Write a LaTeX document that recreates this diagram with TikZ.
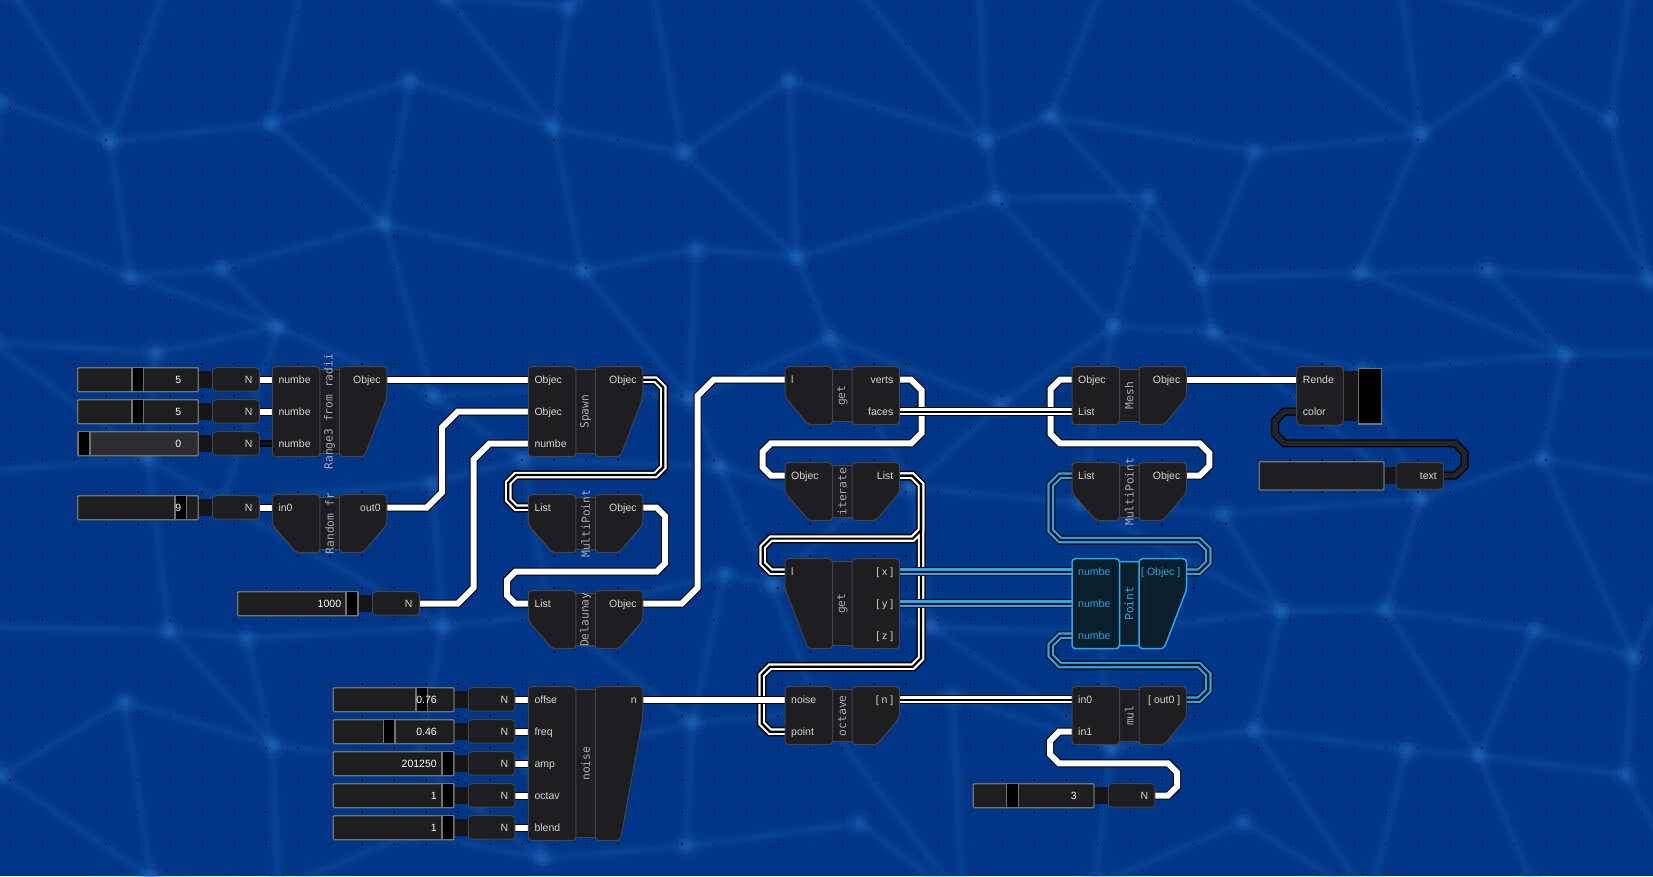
\documentclass[tikz,border=0pt]{standalone}
\usepackage{fontspec}
\setmainfont{Liberation Sans}
\newfontfamily\monof{DejaVu Sans Mono}
\pgfdeclarelayer{bgl}
\pgfdeclarelayer{wires}
\pgfsetlayers{bgl,wires,main}
\definecolor{bg}{HTML}{003587}
\definecolor{netl}{HTML}{2A6FC4}
\definecolor{nodef}{HTML}{1E1E20}
\definecolor{noded}{HTML}{44454B}
\definecolor{lbl}{HTML}{D6D6D6}
\definecolor{midl}{HTML}{A9ABB3}
\definecolor{cyn}{HTML}{2EA6EA}
\definecolor{cynd}{HTML}{06121E}
\definecolor{ptf}{HTML}{0B1E2B}
\definecolor{sldb}{HTML}{737373}
\definecolor{sl0}{HTML}{2C2D31}
\definecolor{dotc}{HTML}{0B1830}
\definecolor{neckc}{HTML}{161618}
\definecolor{wk}{HTML}{242426}
\tikzset{
  nbody/.style={fill=nodef, draw=noded, line width=1},
  pbody/.style={fill=ptf, draw=cyn, line width=1.5},
  plab/.style={font=\fontsize{10.5}{12}\selectfont, inner sep=0, text height=7, text depth=0},
  vlab/.style={font=\fontsize{10.5}{12}\selectfont, inner sep=0, text height=7, text depth=0, text=white},
  midlab/.style={font=\monof\fontsize{11.3}{12}\selectfont, inner sep=0, text=midl},
  pmid/.style={font=\monof\fontsize{11.3}{12}\selectfont, inner sep=0, text=cyn},
  sbody/.style={draw=sldb, line width=1.3, rounded corners=1},
  sknob/.style={fill=black, draw=sldb, line width=1.2},
  nbox/.style={fill=nodef, draw=noded, line width=1, rounded corners=3},
  net/.style={draw=netl, line cap=round},
}
% node part shapes
\newcommand\pLs{(\gx,\gy) -- (\gx+47.5,\gy) -- (\gx+47.5,\gb) -- (\gx,\gb) -- cycle}
\newcommand\pLc{(\gx,\gy) -- (\gx+47.5,\gy) -- (\gx+47.5,\gb) -- (\gx+24,\gb) -- (\gx,\gb-28) -- cycle}
\newcommand\pLt{(\gx,\gy) -- (\gx+47.5,\gy) -- (\gx+47.5,\gb) -- (\gx+23,\gb) -- (\gx,\gy+30) -- cycle}
\newcommand\pRs{(\gx+67,\gy) -- (\gx+114.5,\gy) -- (\gx+114.5,\gb) -- (\gx+67,\gb) -- cycle}
\newcommand\pRc{(\gx+67,\gy) -- (\gx+114.5,\gy) -- (\gx+114.5,\gb-28) -- (\gx+90.5,\gb) -- (\gx+67,\gb) -- cycle}
\newcommand\pRt{(\gx+67,\gy) -- (\gx+114.5,\gy) -- (\gx+114.5,\gy+31) -- (\gx+92,\gb) -- (\gx+67,\gb) -- cycle}
% graph node: name, X, Y, rows, left shape, right shape, label, body style, label style
\newcommand\GN[9]{%
  \pgfmathsetmacro\gx{#2}%
  \pgfmathsetmacro\gy{#3}%
  \pgfmathsetmacro\gb{#3+32*#4-6}%
  \pgfmathsetmacro\gc{#3+16*#4-3}%
  \pgfmathsetmacro\gh{32*#4-6}%
  \node[inner sep=0, outer sep=0, minimum width=114.5pt, minimum height=\gh pt, anchor=north west] (#1) at (\gx,\gy) {};
  \draw[#8, rounded corners=2.5] (\gx+46,\gy+3) rectangle (\gx+68.5,\gb-3);
  \draw[#8, rounded corners=3.5] #5;
  \draw[#8, rounded corners=3.5] #6;
  \node[#9, rotate=90] (#1-lab) at (\gx+57.25,\gc) {#7};
}
\newcommand\InP[4][lbl]{\coordinate (#4) at (\gx,\gy+32*#2-19);
  \node[plab, text=#1, anchor=west] (#4-t) at (\gx+6,\gy+32*#2-19) {#3};}
\newcommand\OutP[4][lbl]{\coordinate (#4) at (\gx+114.5,\gy+32*#2-19);
  \node[plab, text=#1, anchor=east] (#4-t) at (\gx+108.5,\gy+32*#2-19) {#3};}
% slider: name, x0, row y, knob x, value, fill
\newcommand\SLD[6]{%
  \fill[neckc] (#2+119,#3-8.5) rectangle (#2+137,#3+8.5);
  \draw[sbody, fill=#6] (#2,#3-12) rectangle (#2+120.6,#3+12);
  \draw[sknob] (#4,#3-12) rectangle (#4+11.7,#3+12);
  \node[vlab, anchor=east] (#1-v) at (#2+103.6,#3) {#5};
  \draw[nbox] (#2+135,#3-12) rectangle (#2+181.6,#3+11.5);
  \node[plab, text=lbl, anchor=east] (#1-n) at (#2+175,#3) {N};
  \coordinate (#1) at (#2+181.6,#3);
}
% wires
\newcommand\wS[1]{\draw[black, line width=8] #1; \draw[white, line width=6] #1;}
\newcommand\wL[1]{\draw[black, line width=9.5] #1; \draw[white, line width=6.5] #1; \draw[black, line width=2.2] #1;}
\newcommand\wC[1]{\draw[cynd, line width=9.5] #1; \draw[cyn, line width=6.5] #1; \draw[cynd, line width=2.2] #1;}
\newcommand\wK[1]{\draw[black, line width=8] #1; \draw[wk, line width=5.5] #1;}
\newcommand\wZ[1]{\draw[black, line width=7] #1; \draw[neckc, line width=3] #1;}
\begin{document}
\begin{tikzpicture}[x=1pt, y=-1pt]
\useasboundingbox (0,0) rectangle (1653,876);
\begin{pgfonlayer}{bgl}
  \fill[bg] (0,0) rectangle (1653,876);
  \pgfmathsetseed{11}
  \foreach \i in {0,...,12} {
    \foreach \j in {0,...,7} {
      \pgfmathsetmacro\px{\i*140-20+rand*50}
      \pgfmathsetmacro\py{\j*125-10+rand*45}
      \coordinate (p-\i-\j) at (\px,\py);
    }
  }
  \foreach \i in {0,...,11} {
    \foreach \j in {0,...,7} {
      \pgfmathtruncatemacro\ii{\i+1}
      \draw[net, line width=16, opacity=.06] (p-\i-\j) -- (p-\ii-\j);
      \draw[net, line width=9, opacity=.08] (p-\i-\j) -- (p-\ii-\j);
      \draw[net, line width=4, opacity=.08] (p-\i-\j) -- (p-\ii-\j);
    }
  }
  \foreach \i in {0,...,12} {
    \foreach \j in {0,...,6} {
      \pgfmathtruncatemacro\jj{\j+1}
      \pgfmathtruncatemacro\ii{mod(\i+\j,3)==0 ? min(\i+1,12) : \i}
      \draw[net, line width=16, opacity=.06] (p-\i-\j) -- (p-\ii-\jj);
      \draw[net, line width=9, opacity=.08] (p-\i-\j) -- (p-\ii-\jj);
      \draw[net, line width=4, opacity=.08] (p-\i-\j) -- (p-\ii-\jj);
    }
  }
  \foreach \i in {0,...,12} {
    \foreach \j in {0,...,7} {
      \fill[netl, opacity=.1] (p-\i-\j) circle (14);
      \fill[netl, opacity=.12] (p-\i-\j) circle (9);
      \fill[netl, opacity=.12] (p-\i-\j) circle (5);
    }
  }
  \foreach \i in {0,...,51} {
    \foreach \j in {0,...,26} {
      \fill[dotc] (9+32*\i,11+32*\j) rectangle ++(2,2);
    }
  }
\end{pgfonlayer}

% ---------- sliders ----------
\SLD{n1}{77.7}{379.7}{132}{5}{nodef}
\SLD{n2}{77.7}{411.7}{132}{5}{nodef}
\SLD{n3}{77.7}{443.7}{78.3}{0}{sl0}
\SLD{nr}{77.7}{507.7}{175}{9}{nodef}
\SLD{nk}{237.7}{603.7}{346}{1000}{nodef}
\SLD{nz1}{333.3}{699.7}{416}{0.76}{nodef}
\SLD{nz2}{333.3}{731.7}{383.3}{0.46}{nodef}
\SLD{nz3}{333.3}{763.7}{442}{201250}{nodef}
\SLD{nz4}{333.3}{795.7}{442}{1}{nodef}
\SLD{nz5}{333.3}{827.7}{442}{1}{nodef}
\SLD{nm}{973.3}{795.7}{1006.7}{3}{nodef}

% ---------- text box ----------
\fill[neckc] (1382,467) rectangle (1398,484);
\draw[sbody, fill=nodef] (1259.3,461.7) rectangle (1384,490);
\draw[nbox] (1396,462.7) rectangle (1443.3,489);
\node[plab, text=lbl, anchor=east] (txt-t) at (1437,475.7) {text};
\coordinate (txt) at (1443.3,475.7);

% ---------- render ----------
\node[inner sep=0, outer sep=0, minimum width=85pt, minimum height=58.3pt, anchor=north west] (rnd) at (1296.7,366.7) {};
\fill[neckc] (1340,371) rectangle (1360,421);
\draw[nbody, rounded corners=3.5] (1296.7,366.7) rectangle (1343.3,425);
\draw[fill=black, draw=sldb, line width=1.5] (1358.3,368.3) rectangle (1381.7,424);
\coordinate (rnd-i1) at (1296.7,379.7);
\coordinate (rnd-i2) at (1296.7,411.7);
\node[plab, text=lbl, anchor=west] (rnd-t1) at (1302.7,379.7) {Rende};
\node[plab, text=lbl, anchor=west] (rnd-t2) at (1302.7,411.7) {color};

% ---------- graph nodes ----------
\GN{range}{272.3}{366.7}{3}{\pLs}{\pRt}{Range3 from radii}{nbody}{midlab}
\InP{1}{numbe}{range-i1}\InP{2}{numbe}{range-i2}\InP{3}{numbe}{range-i3}\OutP{1}{Objec}{range-o}

\GN{rand}{272.3}{494.7}{2}{\pLc}{\pRc}{Random fr}{nbody}{midlab}
\InP{1}{in0}{rand-i}\OutP{1}{out0}{rand-o}

\GN{spawn}{528.3}{366.7}{3}{\pLs}{\pRt}{Spawn}{nbody}{midlab}
\InP{1}{Objec}{spawn-i1}\InP{2}{Objec}{spawn-i2}\InP{3}{numbe}{spawn-i3}\OutP{1}{Objec}{spawn-o}

\GN{mpa}{528.3}{494.7}{2}{\pLc}{\pRc}{MultiPoint}{nbody}{midlab}
\InP{1}{List}{mpa-i}\OutP{1}{Objec}{mpa-o}

\GN{dl}{528.3}{590.7}{2}{\pLc}{\pRc}{Delaunay}{nbody}{midlab}
\InP{1}{List}{dl-i}\OutP{1}{Objec}{dl-o}

\GN{noise}{528.3}{686.7}{5}{\pLs}{\pRt}{noise}{nbody}{midlab}
\InP{1}{offse}{noise-i1}\InP{2}{freq}{noise-i2}\InP{3}{amp}{noise-i3}\InP{4}{octav}{noise-i4}\InP{5}{blend}{noise-i5}\OutP{1}{n}{noise-o}

\GN{geta}{785}{366.7}{2}{\pLt}{\pRs}{get}{nbody}{midlab}
\InP{1}{l}{geta-i}\OutP{1}{verts}{geta-o1}\OutP{2}{faces}{geta-o2}

\GN{iter}{785}{462.7}{2}{\pLc}{\pRc}{iterate}{nbody}{midlab}
\InP{1}{Objec}{iter-i}\OutP{1}{List}{iter-o}

\GN{getb}{785}{558.7}{3}{\pLt}{\pRs}{get}{nbody}{midlab}
\InP{1}{l}{getb-i}\OutP{1}{[ x ]}{getb-o1}\OutP{2}{[ y ]}{getb-o2}\OutP{3}{[ z ]}{getb-o3}

\GN{oct}{785}{686.7}{2}{\pLs}{\pRt}{octave}{nbody}{midlab}
\InP{1}{noise}{oct-i1}\InP{2}{point}{oct-i2}\OutP{1}{[ n ]}{oct-o}

\GN{mesh}{1072}{366.7}{2}{\pLs}{\pRt}{Mesh}{nbody}{midlab}
\InP{1}{Objec}{mesh-i1}\InP{2}{List}{mesh-i2}\OutP{1}{Objec}{mesh-o}

\GN{mpb}{1072}{462.7}{2}{\pLc}{\pRc}{MultiPoint}{nbody}{midlab}
\InP{1}{List}{mpb-i}\OutP{1}{Objec}{mpb-o}

\GN{pt}{1072}{558.7}{3}{\pLs}{\pRt}{Point}{pbody}{pmid}
\InP[cyn]{1}{numbe}{pt-i1}\InP[cyn]{2}{numbe}{pt-i2}\InP[cyn]{3}{numbe}{pt-i3}\OutP[cyn]{1}{[ Objec ]}{pt-o}

\GN{mul}{1072}{686.7}{2}{\pLs}{\pRt}{mul}{nbody}{midlab}
\InP{1}{in0}{mul-i1}\InP{2}{in1}{mul-i2}\OutP{1}{[ out0 ]}{mul-o}

% ---------- wires ----------
\begin{pgfonlayer}{wires}
\wS{(n1) -- (range-i1)}
\wS{(n2) -- (range-i2)}
\wZ{(n3) -- (range-i3)}
\wS{(nr) -- (rand-i)}
\wS{(nz1) -- (noise-i1)}
\wS{(nz2) -- (noise-i2)}
\wS{(nz3) -- (noise-i3)}
\wS{(nz4) -- (noise-i4)}
\wS{(nz5) -- (noise-i5)}
\wS{(range-o) -- (spawn-i1)}
\wS{(rand-o) -- (426.7,507.7) -- (442.2,492.2) -- (442.2,427.2) -- (457.7,411.7) -- (spawn-i2)}
\wS{(nk) -- (457.7,603.7) -- (473.5,587.9) -- (473.5,459.5) -- (489.3,443.7) -- (spawn-i3)}
\wL{(spawn-o) -- (655.5,379.7) -- (663.3,387.5) -- (663.3,467.2) -- (655.5,475) -- (516,475) -- (508.3,482.7) -- (508.3,499.9) -- (516,507.7) -- (mpa-i)}
\wS{(mpa-o) -- (656.7,507.7) -- (665,516) -- (665,563.4) -- (656.7,571.7) -- (515.3,571.7) -- (507,580) -- (507,595.4) -- (515.3,603.7) -- (dl-i)}
\wS{(dl-o) -- (681.7,603.7) -- (697.7,587.7) -- (697.7,395.7) -- (713.7,379.7) -- (geta-i)}
\wS{(geta-o1) -- (911,379.7) -- (921.7,390.4) -- (921.7,433) -- (911.4,443.3) -- (771,443.3) -- (762.7,451.6) -- (762.7,467.4) -- (771,475.7) -- (iter-i)}
\wS{(mpb-o) -- (1199.7,475.7) -- (1209.3,466.1) -- (1209.3,453) -- (1199.6,443.3) -- (1060,443.3) -- (1050.7,434) -- (1050.7,389) -- (1060,379.7) -- (mesh-i1)}
\wL{(geta-o2) -- (mesh-i2)}
% iterate List fans out to get and octave
\foreach \lw/\cl in {9.5/black, 6.5/white, 2.2/black} {
  \draw[\cl, line width=\lw] (iter-o) -- (912.3,475.7) -- (921,484.4) -- (921,658.4) -- (912.7,666.7) -- (770,666.7) -- (761.7,675) -- (761.7,723.4) -- (770,731.7) -- (oct-i2);
  \draw[\cl, line width=\lw] (iter-o) -- (912.3,475.7) -- (921,484.4) -- (921,530.3) -- (912.7,538.6) -- (771,538.6) -- (762.7,546.9) -- (762.7,563.4) -- (771,571.7) -- (getb-i);
}
\wC{(getb-o1) -- (pt-i1)}
\wC{(getb-o2) -- (pt-i2)}
\wC{(pt-o) -- (1199,571.7) -- (1208.3,562.4) -- (1208.3,549.3) -- (1199,540) -- (1060,540) -- (1050.7,530.7) -- (1050.7,485) -- (1060,475.7) -- (mpb-i)}
\wS{(mesh-o) -- (rnd-i1)}
\wK{(txt) -- (1455,475.7) -- (1464.5,466.2) -- (1464.5,452.8) -- (1455,443.3) -- (1284.3,443.3) -- (1275,434) -- (1275,421) -- (1284.3,411.7) -- (rnd-i2)}
\wC{(mul-o) -- (1199,699.7) -- (1208.3,690.4) -- (1208.3,674.3) -- (1199,665) -- (1060,665) -- (1050.7,655.7) -- (1050.7,645) -- (1060,635.7) -- (pt-i3)}
\wL{(oct-o) -- (mul-i1)}
\wS{(noise-o) -- (oct-i1)}
\wS{(nm) -- (1168,795.7) -- (1177,786.7) -- (1177,772.3) -- (1168,763.3) -- (1059,763.3) -- (1050,754.3) -- (1050,741) -- (1059,731.7) -- (mul-i2)}
\end{pgfonlayer}
\end{tikzpicture}
\end{document}
